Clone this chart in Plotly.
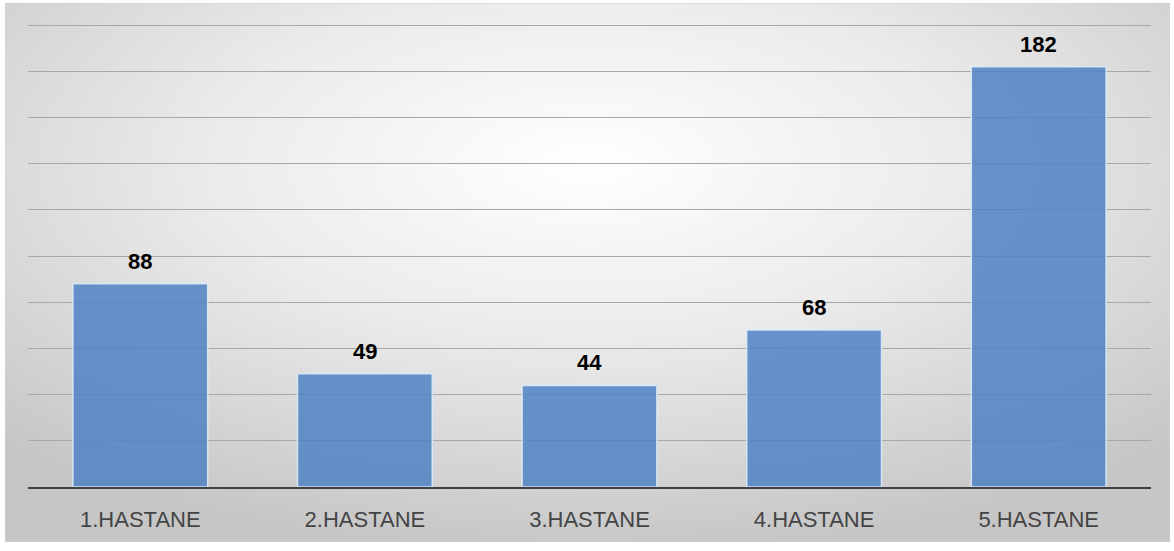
import base64
import plotly.graph_objects as go

categories = ["1.HASTANE", "2.HASTANE", "3.HASTANE", "4.HASTANE", "5.HASTANE"]
values = [88, 49, 44, 68, 182]

W, H = 1174, 551
L, R, T, B = 28, 23, 20, 64
pw, ph = W - L - R, H - T - B

svg = (
    '<svg xmlns="http://www.w3.org/2000/svg" width="1165" height="539" viewBox="0 0 1165 539" preserveAspectRatio="none">'
    '<defs><radialGradient id="g" cx="50%" cy="30%" r="72%" gradientUnits="objectBoundingBox">'
    '<stop offset="0%" stop-color="#ffffff"/><stop offset="45%" stop-color="#ebebeb"/>'
    '<stop offset="100%" stop-color="#c6c6c6"/></radialGradient></defs>'
    '<rect x="0" y="0" width="1165" height="539" fill="url(#g)" stroke="#d0d0d0" stroke-width="1"/></svg>'
)
src = "data:image/svg+xml;base64," + base64.b64encode(svg.encode()).decode()

def px2x(p):
    return (p - L) / pw

def py2y(p):
    return (H - B - p) / ph

fig = go.Figure()
fig.add_trace(go.Bar(
    x=categories, y=values,
    marker=dict(color="rgba(79,129,195,0.85)", line=dict(color="rgba(220,235,250,0.9)", width=1.5)),
    width=0.6, hoverinfo="x+y",
))

for c, v in zip(categories, values):
    fig.add_annotation(x=c, y=v, text="<b>%d</b>" % v, showarrow=False,
                       yanchor="bottom", yshift=8,
                       font=dict(family="Liberation Sans", size=22, color="#000000"))

fig.update_layout(
    width=W, height=H,
    margin=dict(l=L, r=R, t=T, b=B),
    paper_bgcolor="white", plot_bgcolor="rgba(0,0,0,0)",
    showlegend=False,
    images=[dict(source=src, xref="paper", yref="paper",
                 x=px2x(5), y=py2y(3), sizex=px2x(1170) - px2x(5), sizey=py2y(3) - py2y(542),
                 xanchor="left", yanchor="top", sizing="stretch", layer="below")],
    xaxis=dict(showgrid=False, showline=True, linecolor="#404040", linewidth=2,
               tickfont=dict(family="Liberation Sans", size=22, color="#444444"),
               ticks="", ticklabelstandoff=12),
    yaxis=dict(range=[0, 202.2], dtick=20, showgrid=True, gridcolor="#a8a8a8", gridwidth=1,
               showticklabels=False, zeroline=False, ticks=""),
    bargap=0.4,
)

fig.write_html("out.html")
